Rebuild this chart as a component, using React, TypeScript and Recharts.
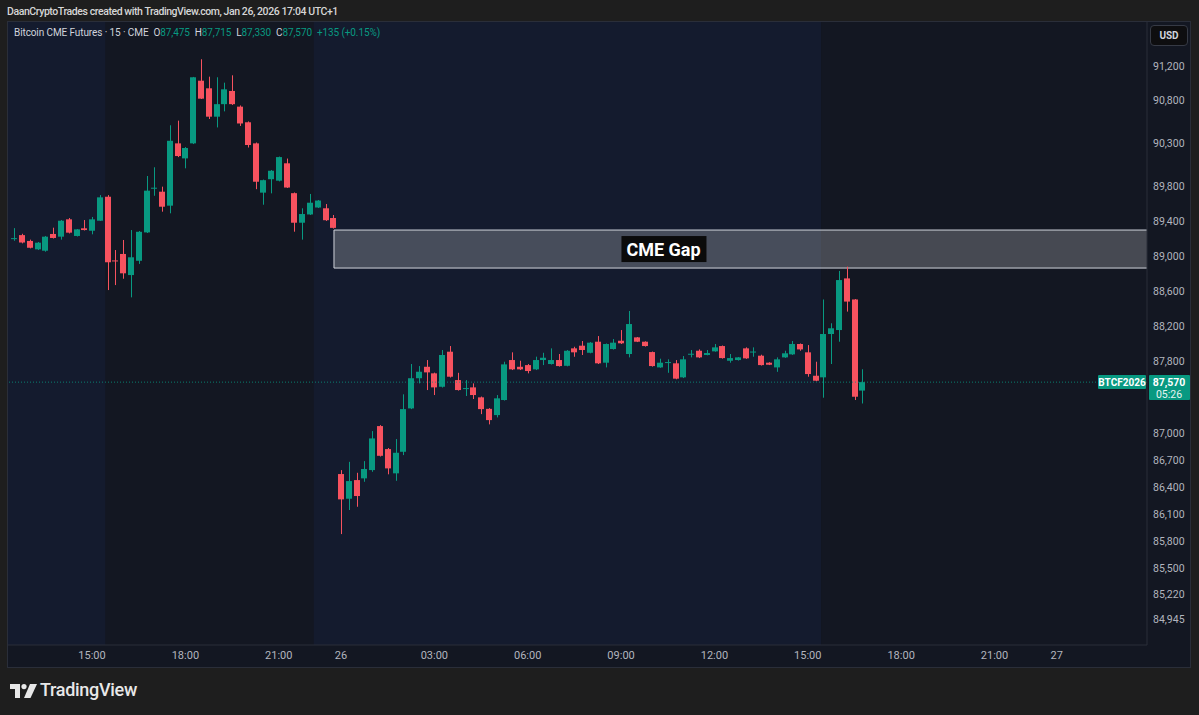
import React from 'react';
import { ComposedChart, Bar, XAxis, YAxis, ReferenceArea, ReferenceLine, ReferenceDot } from 'recharts';

// 15-minute candles, index 0 = Fri Jan 23 12:30 (UTC+1); index 42 = Mon Jan 26 00:00
const opens = [
  89195, 89240, 89173, 89077, 89061, 89253, 89222, 89421, 89230, 89318,
  89290, 89405, 89681, 88950, 89024, 88783, 88946, 89271, 89776, 89739,
  89578, 90298, 90124, 90298, 91028, 90939, 90608, 90754, 90908, 90725,
  90543, 90298, 89728, 89883, 89866, 90067, 89722, 89382, 89477, 89557,
  89548, 89436,
  86542, 86268, 86475, 86494, 86586, 87077, 86820, 86550,
  86790, 87275, 87614, 87743, 87669, 87518, 87913, 87593, 87494, 87511,
  87399, 87270, 87200, 87369, 87819, 87743, 87762, 87714, 87819, 87774,
  87819, 87754, 87951, 87981, 87901, 88026, 87789, 87943, 88037, 87887,
  88075, 88026, 87909, 87736, 87791, 87782, 87624, 87883, 87924, 87876,
  87917, 87977, 87811, 87819, 87951, 87909, 87868, 87789, 87736, 87849,
  87883, 88000, 87906, 87642, 87624, 88113, 88158, 88745, 88505, 87475,
];
const highs = [
  89320, 89255, 89188, 89161, 89230, 89325, 89413, 89436, 89310, 89413,
  89448, 89700, 89700, 89069, 89184, 89298, 89287, 89920, 90021, 89797,
  90508, 90562, 90255, 91072, 91279, 91075, 91068, 91005, 91091, 90739,
  90553, 90308, 89879, 89989, 90145, 90122, 89730, 89548, 89713, 89643,
  89597, 89471,
  86586, 86678, 86556, 86686, 87021, 87088, 86832, 86932,
  87433, 87774, 87751, 87819, 87677, 87932, 87977, 87675, 87593, 87556,
  87408, 87278, 87425, 87800, 87906, 87811, 87774, 87857, 87901, 87951,
  87887, 87932, 87969, 88034, 88022, 88090, 88006, 88056, 88158, 88374,
  88079, 88030, 87915, 87834, 87827, 87819, 87864, 87932, 87939, 87932,
  88000, 87983, 87887, 87853, 87962, 87962, 87879, 87794, 87849, 87924,
  88034, 88006, 87988, 87800, 88505, 88235, 88830, 88879, 88510, 87715,
];
const lows = [
  89175, 89145, 89088, 89069, 89050, 89201, 89188, 89259, 89224, 89293,
  89249, 89402, 88612, 88669, 88741, 88529, 88910, 89264, 89692, 89509,
  89490, 90139, 90009, 90290, 90814, 90581, 90483, 90670, 90745, 90500,
  90250, 89768, 89589, 89720, 89858, 89782, 89279, 89188, 89471, 89551,
  89402, 89315,
  85877, 86143, 86179, 86456, 86567, 86737, 86539, 86467,
  86753, 87267, 87556, 87481, 87425, 87509, 87622, 87475, 87414, 87380,
  87211, 87096, 87174, 87363, 87706, 87706, 87669, 87706, 87762, 87768,
  87745, 87748, 87856, 87876, 87895, 87774, 87736, 87937, 88000, 87849,
  88022, 87971, 87745, 87731, 87675, 87602, 87616, 87849, 87841, 87872,
  87913, 87835, 87789, 87813, 87832, 87856, 87757, 87762, 87686, 87843,
  87877, 87924, 87631, 87580, 87395, 87774, 88026, 88367, 87369, 87330,
];
const closes = [
  89205, 89155, 89095, 89153, 89222, 89207, 89405, 89268, 89306, 89298,
  89421, 89674, 88929, 88944, 88803, 88986, 89278, 89751, 89785, 89566,
  90328, 90151, 90244, 91068, 90818, 90608, 90754, 90927, 90754, 90529,
  90279, 89854, 89872, 89981, 90139, 89787, 89382, 89482, 89612, 89637,
  89411, 89323,
  86261, 86464, 86298, 86598, 86939, 86745, 86605, 86779,
  87267, 87614, 87687, 87680, 87511, 87876, 87631, 87481, 87503, 87425,
  87267, 87144, 87388, 87770, 87714, 87714, 87695, 87819, 87845, 87819,
  87751, 87924, 87906, 87932, 88015, 87782, 88000, 88015, 88008, 88226,
  88026, 87977, 87751, 87789, 87796, 87609, 87827, 87890, 87849, 87898,
  87962, 87841, 87841, 87849, 87838, 87915, 87762, 87766, 87827, 87895,
  88000, 87939, 87661, 87586, 88113, 88178, 88726, 88481, 87406, 87570,
];

const xTickIndex = [10, 22, 34, 42, 54, 66, 78, 90, 102, 114, 126, 134];
const xTickLabels = ['15:00', '18:00', '21:00', '26', '03:00', '06:00', '09:00', '12:00', '15:00', '18:00', '21:00', '27'];
const yTicks = [91200, 90800, 90300, 89800, 89400, 89000, 88600, 88200, 87800, 87000, 86700, 86400, 86100, 85800, 85500, 85220, 84945];
const xDomain = [-0.8, 145.6];
const yDomain = [84662, 91717];
const extendedHours = [[-1, 11.7], [38.5, 103.7]];
const gapLow = 88863;
const gapHigh = 89298;
const gapStart = 41.1;
const gapLabelAt = 83.45;
const lastPrice = 87570;

const UP = '#089981';
const DOWN = '#f7525f';
const FONT = 'Roboto, "Liberation Sans", sans-serif';

const data = opens.map((o, i) => ({
  i,
  open: o,
  high: highs[i],
  low: lows[i],
  close: closes[i],
  range: [lows[i], highs[i]],
}));

const Candle = (props: any) => {
  const { x, y, width, height, payload } = props;
  if (x == null || y == null || !payload) return null;
  const { open, close, high, low } = payload;
  const top = Math.min(y, y + height);
  const h = Math.abs(height);
  const lh = Math.log(high);
  const ll = Math.log(low);
  const yOf = (v: number) => (lh === ll ? top : top + (h * (lh - Math.log(v))) / (lh - ll));
  const color = close >= open ? UP : DOWN;
  const bx = Math.round(x);
  const cx = bx + Math.floor(width / 2) + 0.5;
  const bt = yOf(Math.max(open, close));
  const bb = yOf(Math.min(open, close));
  return (
    <g>
      <line x1={cx} x2={cx} y1={top} y2={top + h} stroke={color} strokeWidth={1} />
      <rect x={bx} y={bt} width={width} height={Math.max(1, bb - bt)} fill={color} />
    </g>
  );
};

const PriceLabel = (props: any) => {
  const vb = props.viewBox || {};
  const right = vb.x + vb.width;
  const cy = Math.round(vb.y);
  return (
    <g>
      <rect x={right - 49} y={cy - 7} width={48} height={14} rx={1} fill={UP} />
      <text x={right - 25} y={cy} dy="0.36em" textAnchor="middle" fill="#ffffff" fontSize={10} fontWeight={700} fontFamily={FONT}>BTCF2026</text>
      <rect x={right + 2} y={cy - 7} width={41} height={25} rx={1} fill={UP} />
      <text x={right + 22} y={cy} dy="0.36em" textAnchor="middle" fill="#ffffff" fontSize={10.5} fontWeight={700} fontFamily={FONT}>{lastPrice.toLocaleString('en-US')}</text>
      <text x={right + 22} y={cy + 12} dy="0.36em" textAnchor="middle" fill="#e6f4f1" fontSize={10.5} fontFamily={FONT}>05:26</text>
    </g>
  );
};

const GapLabel = (props: any) => {
  const { cx, cy } = props;
  if (cx == null) return null;
  return (
    <g>
      <rect x={cx - 42} y={cy - 13} width={85} height={26} fill="#0b0b0b" />
      <text x={cx} y={cy} dy="0.36em" textAnchor="middle" fill="#ffffff" fontSize={18} fontWeight={700} fontFamily={FONT}>CME Gap</text>
    </g>
  );
};

const TVLogo = () => (
  <svg width={28} height={14} viewBox="0 0 28 14" style={{ position: 'absolute', left: 10, top: 684 }}>
    <path d="M0 0 H10 V14 H5 V5 H0 Z" fill="#e8e8e8" />
    <circle cx={14} cy={2.6} r={2.6} fill="#e8e8e8" />
    <path d="M20 0 H27 L20.5 14 H14 Z" fill="#e8e8e8" />
  </svg>
);

export default function App() {
  return (
    <div style={{ position: 'fixed', left: 0, top: 0, width: 1199, height: 715, background: '#1e1e1e', overflow: 'hidden', fontFamily: FONT }}>
      <div style={{ position: 'absolute', left: 7, top: 5, fontSize: 10.5, fontWeight: 500, color: '#d6d6d6', whiteSpace: 'nowrap', letterSpacing: -0.42 }}>
        DaanCryptoTrades created with TradingView.com, Jan 26, 2026 17:04 UTC+1
      </div>
      <div style={{ position: 'absolute', left: 7, top: 21, width: 1184, height: 647, background: '#131722', border: '1px solid #2a2e39', boxSizing: 'border-box' }} />
      <div style={{ position: 'absolute', left: 8, top: 22 }}>
        <ComposedChart width={1182} height={645} data={data} margin={{ top: 0, right: 0, bottom: 0, left: 0 }}>
          <XAxis
            dataKey="i"
            type="number"
            domain={xDomain}
            allowDataOverflow
            ticks={xTickIndex}
            tickFormatter={(v: number) => xTickLabels[xTickIndex.indexOf(v)] ?? ''}
            height={22}
            tickLine={false}
            tickSize={0}
            tickMargin={6}
            axisLine={{ stroke: '#2a2e39' }}
            tick={{ fill: '#b2b5be', fontSize: 11, fontFamily: FONT }}
            interval={0}
          />
          <YAxis
            orientation="right"
            scale="log"
            domain={yDomain}
            allowDataOverflow
            ticks={yTicks}
            interval={0}
            width={43}
            tickLine={false}
            tickSize={0}
            tickMargin={6}
            axisLine={{ stroke: '#2a2e39' }}
            tick={{ fill: '#b2b5be', fontSize: 10.5, fontFamily: FONT, textAnchor: 'start' }}
            tickFormatter={(v: number) => v.toLocaleString('en-US')}
          />
          {extendedHours.map(([a, b], k) => (
            <ReferenceArea key={k} x1={a} x2={b} fill="#141b2e" fillOpacity={1} strokeWidth={0} ifOverflow="hidden" />
          ))}
          <ReferenceArea
            x1={gapStart}
            x2={150}
            y1={gapLow}
            y2={gapHigh}
            fill="#ffffff"
            fillOpacity={0.22}
            stroke="#d1d4dc"
            strokeWidth={1}
            ifOverflow="hidden"
          />
          <ReferenceLine y={lastPrice} stroke={UP} strokeOpacity={0.8} strokeDasharray="1 2" label={<PriceLabel />} />
          <Bar dataKey="range" barSize={6} shape={<Candle />} isAnimationActive={false} />
          <ReferenceDot x={gapLabelAt} y={Math.sqrt(gapLow * gapHigh)} r={0} shape={<GapLabel />} ifOverflow="visible" />
        </ComposedChart>
      </div>
      <div style={{ position: 'absolute', left: 14, top: 27, fontSize: 10, color: '#d1d4dc', whiteSpace: 'nowrap', letterSpacing: -0.1 }}>
        <span>Bitcoin CME Futures · 15 · CME</span>
        <span style={{ marginLeft: 5 }}>O</span><span style={{ color: UP }}>87,475</span>
        <span style={{ marginLeft: 5 }}>H</span><span style={{ color: UP }}>87,715</span>
        <span style={{ marginLeft: 5 }}>L</span><span style={{ color: UP }}>87,330</span>
        <span style={{ marginLeft: 5 }}>C</span><span style={{ color: UP }}>87,570</span>
        <span style={{ marginLeft: 5, color: UP }}>+135 (+0.15%)</span>
      </div>
      <div style={{ position: 'absolute', left: 1150, top: 25, width: 38, height: 21, background: '#0e0e10', border: '1px solid #363a45', borderRadius: 4, boxSizing: 'border-box', color: '#d1d4dc', fontSize: 10, fontWeight: 700, textAlign: 'center', lineHeight: '19px' }}>
        USD
      </div>
      <TVLogo />
      <div style={{ position: 'absolute', left: 40, top: 679, fontSize: 18, fontWeight: 500, color: '#e8e8e8', letterSpacing: -0.3 }}>
        TradingView
      </div>
    </div>
  );
}
